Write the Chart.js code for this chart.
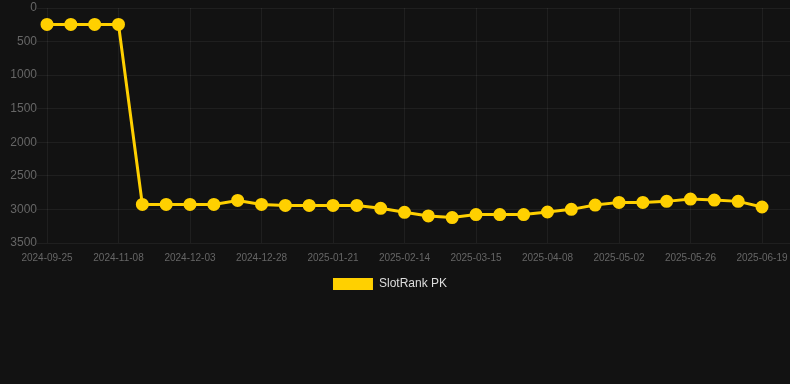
<!DOCTYPE html>
<html>
<head>
<meta charset="utf-8">
<script src="https://cdn.jsdelivr.net/npm/chart.js@4/dist/chart.umd.min.js"></script>
<style>
  html, body { margin: 0; padding: 0; background: #121212; }
  #wrap { width: 790px; height: 300px; }
</style>
</head>
<body>
<div id="wrap"><canvas id="rankChart"></canvas></div>
<script>
// dates of each snapshot
const dates = [
    '2024-09-25', '2024-10-09', '2024-10-24', '2024-11-08', '2024-11-16', '2024-11-25',
    '2024-12-03', '2024-12-11', '2024-12-20', '2024-12-28', '2025-01-05', '2025-01-13',
    '2025-01-21', '2025-01-29', '2025-02-06', '2025-02-14', '2025-02-24', '2025-03-05',
    '2025-03-15', '2025-03-23', '2025-03-31', '2025-04-08', '2025-04-16', '2025-04-24',
    '2025-05-02', '2025-05-10', '2025-05-18', '2025-05-26', '2025-06-03', '2025-06-11',
    '2025-06-19'
];
// rank values (lower is better, axis reversed)
const ranks = [
    245, 245, 245, 245, 2925, 2925,
    2925, 2925, 2866, 2925, 2940, 2940,
    2940, 2940, 2984, 3043, 3097, 3121,
    3077, 3077, 3077, 3038, 2999, 2935,
    2895, 2895, 2880, 2846, 2861, 2880,
    2964
];
const seriesName = 'SlotRank PK';
const yMin = 0;
const yMax = 3500;
const yStep = 500;

const gridColor = 'rgba(255, 255, 255, 0.06)';
const tickColor = '#666666';

// nudge the legend a little to the left, like the original
const legendShift = {
    id: 'legendShift',
    afterLayout(chart) {
        chart.legend.left -= 5;
        chart.legend.right -= 5;
    }
};

const ctx = document.getElementById('rankChart').getContext('2d');
const rankChart = new Chart(ctx, {
    type: 'line',
    data: {
        labels: dates,
        datasets: [{
            label: seriesName,
            data: ranks,
            borderColor: '#ffd000',
            backgroundColor: '#ffd000',
            pointBackgroundColor: '#ffd000',
            pointBorderColor: '#ffd000',
            borderWidth: 3,
            pointRadius: 5,
            tension: 0
        }]
    },
    plugins: [legendShift],
    options: {
        responsive: true,
        maintainAspectRatio: false,
        animation: false,
        plugins: {
            legend: {
                position: 'bottom',
                labels: {
                    color: '#dddddd',
                    font: { size: 12 },
                    boxWidth: 40,
                    boxHeight: 12,
                    generateLabels: function(chart) {
                        return Chart.defaults.plugins.legend.labels.generateLabels(chart)
                            .map(item => Object.assign(item, { lineWidth: 0 }));
                    }
                }
            },
            tooltip: { enabled: false }
        },
        scales: {
            x: {
                grid: { color: gridColor, drawTicks: false },
                border: { display: false },
                afterFit: function(scale) {
                    scale.height = 25;
                    scale.paddingRight = 0;
                },
                ticks: {
                    color: tickColor,
                    font: { size: 10 },
                    autoSkip: false,
                    maxRotation: 0,
                    padding: 9,
                    callback: function(value, index) {
                        return index % 3 === 0 ? this.getLabelForValue(value) : null;
                    }
                }
            },
            y: {
                reverse: true,
                min: yMin,
                max: yMax,
                grid: { color: gridColor, tickLength: 10 },
                border: { display: false },
                afterFit: function(scale) {
                    scale.width = 47;
                    scale.paddingTop = 6;
                },
                ticks: {
                    color: tickColor,
                    font: { size: 12, lineHeight: 1 },
                    stepSize: yStep,
                    padding: 0,
                    callback: function(value) { return value; }
                }
            },
            yRight: {
                position: 'right',
                reverse: true,
                min: yMin,
                max: yMax,
                grid: { color: gridColor, drawOnChartArea: false, tickLength: 28 },
                border: { display: false },
                afterFit: function(scale) { scale.width = 28; },
                ticks: { display: false, stepSize: yStep }
            }
        }
    }
});
</script>
</body>
</html>
